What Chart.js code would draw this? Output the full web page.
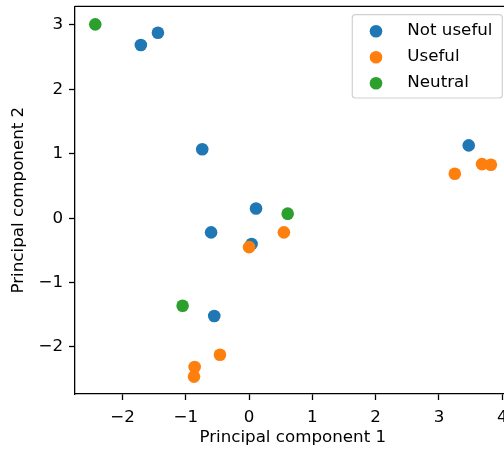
<!DOCTYPE html>
<html>
<head>
<meta charset="utf-8">
<script src="https://cdn.jsdelivr.net/npm/chart.js@4"></script>
<style>
  html, body { margin: 0; padding: 0; background: #fff; overflow: hidden; }
  #wrap { width: 520px; height: 453px; position: relative; }
</style>
</head>
<body>
<div id="wrap"><canvas id="pcaChart"></canvas></div>
<script>
// PCA coordinates, one pair of arrays per class
const notUsefulX = [-1.71, -1.44, -0.74, 0.11, -0.60, 0.04, -0.55, 3.47];
const notUsefulY = [2.69, 2.88, 1.07, 0.15, -0.22, -0.40, -1.52, 1.13];

const usefulX = [0.00, 0.55, -0.46, -0.86, -0.87, 3.25, 3.68, 3.82];
const usefulY = [-0.45, -0.22, -2.12, -2.31, -2.46, 0.69, 0.84, 0.83];

const neutralX = [-2.43, 0.61, -1.05];
const neutralY = [3.01, 0.07, -1.36];

const classLabels = ["Not useful", "Useful", "Neutral"];
const classColors = ["#1f77b4", "#ff7f0e", "#2ca02c"];

const xTicks = [-2, -1, 0, 1, 2, 3, 4];
const yTicks = [-2, -1, 0, 1, 2, 3];

const FONT = "DejaVu Sans";
const FSIZE = 16.7;

function toPoints(xs, ys) {
  return xs.map((x, i) => ({ x: x, y: ys[i] }));
}

// matplotlib uses a real minus sign
function fmtTick(v) {
  return String(v).replace("-", "\u2212");
}

// top spine (chart.js only draws the axis-side border)
const boxPlugin = {
  id: "boxPlugin",
  afterDraw(chart) {
    const a = chart.chartArea;
    const c = chart.ctx;
    c.save();
    c.strokeStyle = "#000";
    c.lineWidth = 1.3;
    c.beginPath();
    c.moveTo(a.left, a.top);
    c.lineTo(a.right, a.top);
    c.lineTo(a.right, a.bottom);
    c.stroke();
    c.restore();
  },
};

// legend drawn inside the axes, upper right, like matplotlib
const innerLegend = {
  id: "innerLegend",
  afterDraw(chart) {
    const c = chart.ctx;
    const bx = 352.3, by = 14.7, bw = 150, bh = 83.3;
    c.save();
    c.beginPath();
    c.roundRect(bx, by, bw, bh, 3);
    c.fillStyle = "rgba(255,255,255,0.8)";
    c.fill();
    c.strokeStyle = "rgba(204,204,204,0.9)";
    c.lineWidth = 1.2;
    c.stroke();

    c.font = FSIZE + "px '" + FONT + "'";
    c.textBaseline = "alphabetic";
    c.textAlign = "left";
    chart.data.datasets.forEach((ds, i) => {
      const yy = 31.3 + i * 26;
      c.beginPath();
      c.arc(376, yy, 6.3, 0, Math.PI * 2);
      c.fillStyle = ds.backgroundColor;
      c.fill();
      c.fillStyle = "#000";
      c.fillText(ds.label, 407.3, 34.7 + i * 26);
    });
    c.restore();
  },
};

const ctx = document.getElementById("pcaChart").getContext("2d");

const pcaChart = new Chart(ctx, {
  type: "scatter",
  data: {
    datasets: [
      {
        label: classLabels[0],
        data: toPoints(notUsefulX, notUsefulY),
        backgroundColor: classColors[0],
        order: 3,
      },
      {
        label: classLabels[1],
        data: toPoints(usefulX, usefulY),
        backgroundColor: classColors[1],
        order: 2,
      },
      {
        label: classLabels[2],
        data: toPoints(neutralX, neutralY),
        backgroundColor: classColors[2],
        order: 1,
      },
    ],
  },
  options: {
    responsive: true,
    maintainAspectRatio: false,
    animation: false,
    events: [],
    elements: {
      point: { radius: 6.3, borderWidth: 0, hoverRadius: 6.3 },
    },
    layout: {
      padding: { left: 0, right: 9.5, top: 5.5, bottom: 0 },
    },
    plugins: {
      legend: { display: false },
      tooltip: { enabled: false },
    },
    scales: {
      x: {
        type: "linear",
        min: -2.75,
        max: 4.13,
        afterFit(scale) {
          scale.height = 59;
          scale.paddingLeft = 0;
          scale.paddingRight = 0;
        },
        afterBuildTicks(scale) { scale.ticks = xTicks.map(v => ({ value: v })); },
        grid: {
          drawOnChartArea: false,
          drawTicks: true,
          tickLength: 6,
          tickWidth: 1.3,
          tickColor: "#000",
        },
        border: { display: true, color: "#000", width: 1.3 },
        ticks: {
          maxRotation: 0,
          padding: 8,
          color: "#000",
          font: { family: FONT, size: FSIZE },
          callback: (v) => fmtTick(v),
        },
        title: {
          display: true,
          text: "Principal component 1",
          color: "#000",
          font: { family: FONT, size: FSIZE },
          padding: { top: 0, bottom: 5 },
        },
      },
      y: {
        type: "linear",
        min: -2.73,
        max: 3.29,
        afterFit(scale) {
          scale.width = 75;
          scale.paddingTop = 0;
          scale.paddingBottom = 0;
        },
        afterBuildTicks(scale) { scale.ticks = yTicks.map(v => ({ value: v })); },
        grid: {
          drawOnChartArea: false,
          drawTicks: true,
          tickLength: 6,
          tickWidth: 1.3,
          tickColor: "#000",
        },
        border: { display: true, color: "#000", width: 1.3 },
        ticks: {
          padding: 6,
          color: "#000",
          font: { family: FONT, size: FSIZE },
          callback: (v) => fmtTick(v),
        },
        title: {
          display: true,
          text: "Principal component 2",
          color: "#000",
          font: { family: FONT, size: FSIZE },
          padding: { top: 9, bottom: 0 },
        },
      },
    },
  },
  plugins: [boxPlugin, innerLegend],
});
</script>
</body>
</html>
